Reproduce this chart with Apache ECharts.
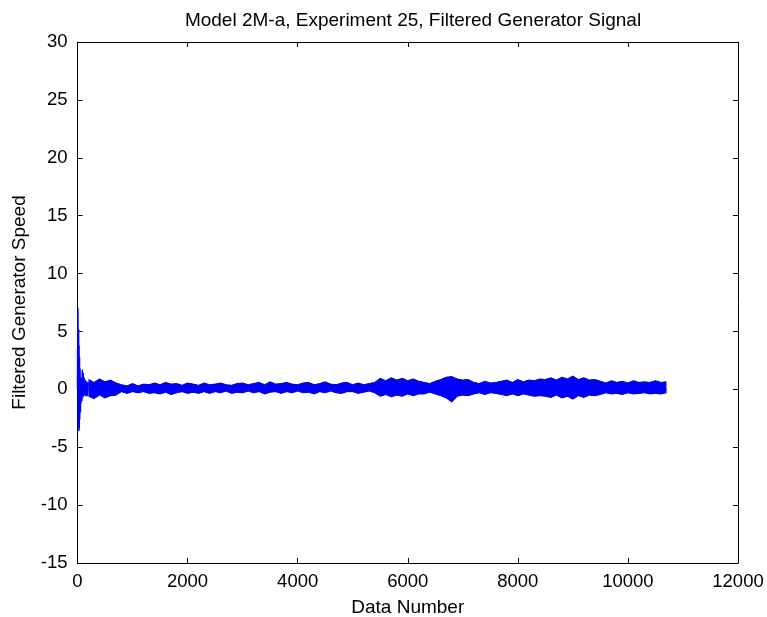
<!DOCTYPE html>
<html>
<head>
<meta charset="utf-8">
<script src="https://cdn.jsdelivr.net/npm/echarts@6/dist/echarts.min.js"></script>
<style>html,body{margin:0;padding:0;background:#fff}#c{width:767px;height:617px}</style>
</head>
<body>
<div id="c"></div>
<script>
const titleText = 'Model 2M-a, Experiment 25, Filtered Generator Signal';
const xName = 'Data Number';
const yName = 'Filtered Generator Speed';
const xTicks = [0, 2000, 4000, 6000, 8000, 10000, 12000];
const yTicks = [-15, -10, -5, 0, 5, 10, 15, 20, 25, 30];

// start-up transient (data number, value)
const transientX = [0, 4, 8, 12, 16, 20, 24, 28, 32, 36, 40, 46, 52, 58, 64, 72, 80, 88, 96, 104, 112, 122, 132, 142, 154, 166, 180, 195];
const transientY = [0, 4.6, 7.0, 1.5, -3.0, 5.2, -3.6, 3.8, -3.4, 2.8, -2.6, 1.8, -2.0, 1.0, -1.2, 0.6, -1.0, 1.7, -0.7, 1.4, -0.6, 1.0, -0.5, 0.8, -0.6, 0.7, -0.6, 0.6];

// envelope of the oscillating signal, sampled every 100 data numbers from 200 to 10700
const envStart = 200, envStep = 100;
const envHigh = [
  0.85,0.6,0.9,0.65,0.8,0.55,
  0.4,0.3,0.5,0.3,0.45,0.4,
  0.55,0.4,0.6,0.45,0.5,0.35,0.55,
  0.45,0.35,0.55,0.4,0.45,0.55,0.4,0.35,0.5,0.55,0.4,
  0.5,0.6,0.4,0.65,0.45,0.5,0.6,0.45,0.4,0.55,0.6,0.4,0.5,0.65,0.45,0.4,0.55,0.6,0.4,0.55,0.4,0.5,0.6,
  0.95,0.75,1.0,0.8,0.95,0.75,0.9,0.7,
  0.6,0.5,0.7,
  0.85,1.05,1.1,0.9,0.8,0.85,
  0.6,0.5,0.7,0.55,0.6,
  0.7,0.8,0.6,0.85,0.65,0.8,0.75,0.9,
  0.85,1.0,0.8,1.05,0.9,1.15,0.85,1.0,0.8,0.85,
  0.7,0.55,0.75,0.6,0.7,0.55,0.75,0.6,0.65,0.6,0.75,0.6,0.65
];
const envLow = [
  -0.6,-0.8,-0.5,-0.75,-0.55,-0.5,
  -0.2,-0.35,-0.2,-0.3,-0.2,-0.35,
  -0.3,-0.4,-0.25,-0.45,-0.3,-0.2,-0.35,
  -0.25,-0.35,-0.2,-0.35,-0.2,-0.3,-0.15,-0.35,-0.25,-0.3,-0.15,
  -0.3,-0.2,-0.4,-0.25,-0.2,-0.35,-0.2,-0.3,-0.15,-0.3,-0.25,-0.4,-0.2,-0.3,-0.15,-0.3,-0.35,-0.2,-0.2,-0.35,-0.25,-0.15,-0.3,
  -0.6,-0.45,-0.65,-0.5,-0.6,-0.4,-0.55,-0.4,
  -0.4,-0.25,-0.4,
  -0.55,-0.75,-1.1,-0.6,-0.5,-0.55,
  -0.4,-0.3,-0.45,-0.3,-0.35,
  -0.45,-0.55,-0.4,-0.55,-0.4,-0.5,-0.6,-0.55,
  -0.6,-0.7,-0.5,-0.75,-0.6,-0.85,-0.55,-0.7,-0.5,-0.55,
  -0.45,-0.3,-0.4,-0.35,-0.45,-0.3,-0.4,-0.35,-0.3,-0.4,-0.35,-0.4,-0.3
];

const BLUE = '#0000ff';
const EDGE = '#0000b0';
const envX = envHigh.map((_, i) => envStart + i * envStep);
const highData = envX.map((x, i) => [x, envHigh[i]]);
const lowData = envX.map((x, i) => [x, envLow[i]]);
const transientData = transientX.map((x, i) => [x, transientY[i]]);

const font = 'Liberation Sans, Arial, sans-serif';
const axisCommon = {
  axisLine: { show: true, onZero: false, lineStyle: { color: '#000', width: 1 } },
  axisTick: { show: true, inside: true, length: 5, lineStyle: { color: '#000' } },
  splitLine: { show: false }
};

const chart = echarts.init(document.getElementById('c'), null, { renderer: 'canvas' });
chart.setOption({
  animation: false,
  backgroundColor: '#fff',
  title: {
    text: titleText, left: 408, top: 6, textAlign: 'center',
    textStyle: { fontFamily: font, fontSize: 19, fontWeight: 'normal', color: '#000' }
  },
  grid: { left: 77.5, right: 29, top: 42, bottom: 54, containLabel: false, outerBoundsMode: 'none' },
  xAxis: [
    Object.assign({
      type: 'value', min: xTicks[0], max: xTicks[xTicks.length - 1], interval: 2000,
      name: xName, nameLocation: 'middle', nameGap: 35,
      nameTextStyle: { fontFamily: font, fontSize: 19, color: '#000' },
      axisLabel: { fontFamily: font, fontSize: 18.5, color: '#000', margin: 9, formatter: v => String(v) }
    }, axisCommon),
    Object.assign({
      type: 'value', position: 'top', min: xTicks[0], max: xTicks[xTicks.length - 1], interval: 2000,
      axisLabel: { show: false }
    }, axisCommon)
  ],
  yAxis: [
    Object.assign({
      type: 'value', min: yTicks[0], max: yTicks[yTicks.length - 1], interval: 5,
      name: yName, nameLocation: 'middle', nameGap: 48, nameRotate: 90,
      nameTextStyle: { fontFamily: font, fontSize: 19, color: '#000' },
      axisLabel: { fontFamily: font, fontSize: 18.5, color: '#000', margin: 10 }
    }, axisCommon),
    Object.assign({
      type: 'value', position: 'right', min: yTicks[0], max: yTicks[yTicks.length - 1], interval: 5,
      axisLabel: { show: false }
    }, axisCommon)
  ],
  series: [
    {
      type: 'line', data: highData, xAxisIndex: 0, yAxisIndex: 0,
      symbol: 'none', lineStyle: { color: EDGE, width: 1 },
      areaStyle: { color: BLUE, opacity: 1, origin: -0.1 }, z: 2
    },
    {
      type: 'line', data: lowData, xAxisIndex: 0, yAxisIndex: 0,
      symbol: 'none', lineStyle: { color: EDGE, width: 1 },
      areaStyle: { color: BLUE, opacity: 1, origin: 0.1 }, z: 2
    },
    {
      type: 'line', data: transientData, xAxisIndex: 0, yAxisIndex: 0, symbol: 'none',
      lineStyle: { color: BLUE, width: 1.5 }, z: 4
    }
  ]
});
</script>
</body>
</html>
